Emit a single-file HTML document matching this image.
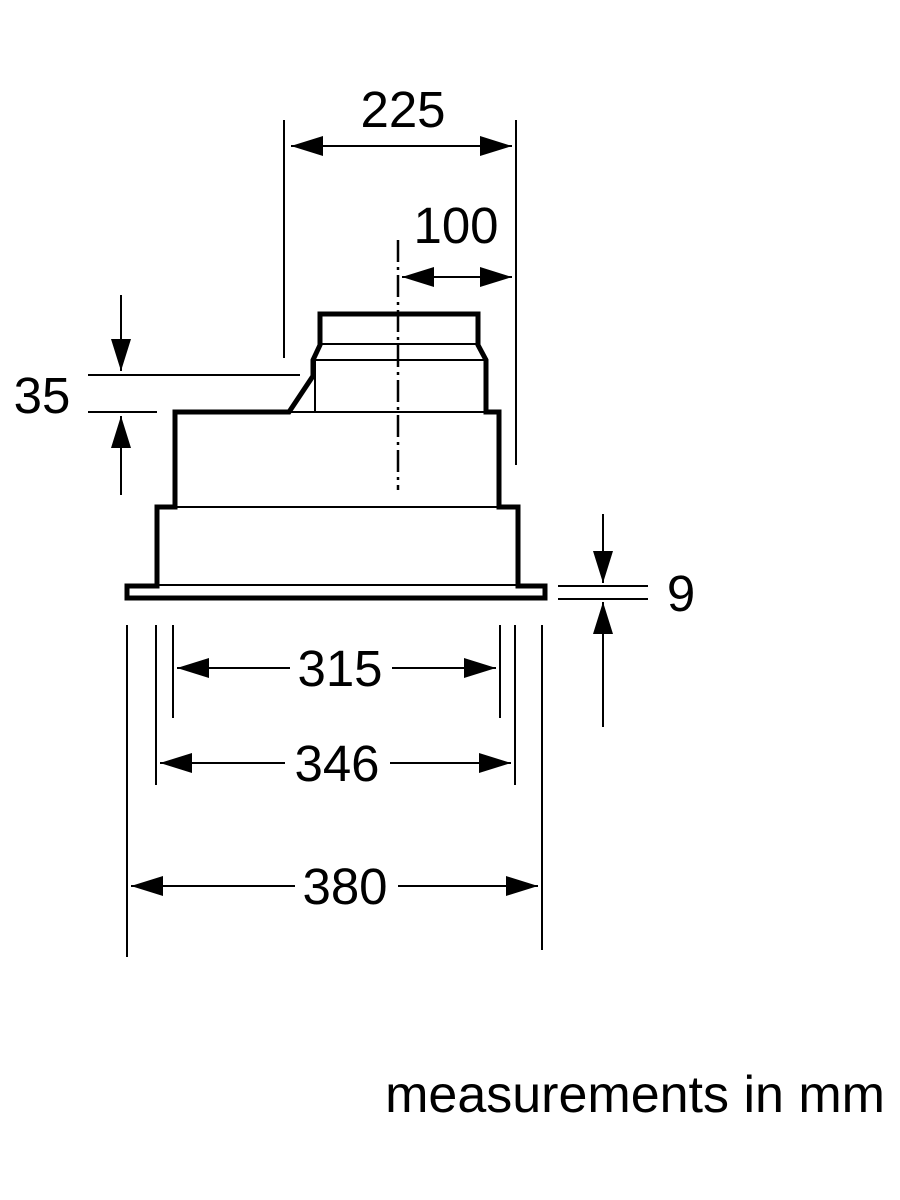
<!DOCTYPE html>
<html><head><meta charset="utf-8"><style>
html,body{margin:0;padding:0;background:#fff;}
svg{display:block;}
text{font-family:"Liberation Sans",Arial,sans-serif;fill:#000;}
</style></head><body>
<svg width="900" height="1200" viewBox="0 0 900 1200" xmlns="http://www.w3.org/2000/svg">
<defs>
<marker id="a" viewBox="0 0 32 20" refX="32" refY="10" markerWidth="32" markerHeight="20" markerUnits="userSpaceOnUse" orient="auto-start-reverse">
<path d="M0,0 L32,10 L0,20 Z" fill="#000"/></marker>
</defs>
<g fill="none" stroke="#000">
<g stroke-width="5" stroke-linejoin="miter">
<path d="M127,598 L127,586 L157,586 L157,507 L175,507 L175,412 L289,412 L313,376 L313,360 L320,345 L320,314 L478,314 L478,345 L486,360 L486,412 L499,412 L499,507 L518,507 L518,586 L545,586 L545,598 Z"/>
</g>
<g stroke-width="2">
<line x1="157" y1="585" x2="518" y2="585"/>
<line x1="175" y1="507" x2="499" y2="507"/>
<line x1="289" y1="412" x2="486" y2="412"/>
<line x1="315" y1="360" x2="315" y2="412"/>
<line x1="320" y1="344" x2="478" y2="344"/>
<line x1="313" y1="360" x2="486" y2="360"/>
</g>
<line x1="398" y1="240" x2="398" y2="490" stroke-width="2.5" stroke-dasharray="22,5,3,5"/>
<g stroke-width="2">
<line x1="284" y1="120" x2="284" y2="358"/>
<line x1="516" y1="120" x2="516" y2="465"/>
<line x1="88" y1="375" x2="300" y2="375"/>
<line x1="88" y1="412" x2="157" y2="412"/>
<line x1="558" y1="586" x2="648" y2="586"/>
<line x1="558" y1="599" x2="648" y2="599"/>
<line x1="173" y1="625" x2="173" y2="718"/>
<line x1="500" y1="625" x2="500" y2="718"/>
<line x1="156" y1="625" x2="156" y2="785"/>
<line x1="515" y1="625" x2="515" y2="785"/>
<line x1="127" y1="625" x2="127" y2="957"/>
<line x1="542" y1="625" x2="542" y2="950"/>
<line x1="291" y1="146" x2="512" y2="146" marker-start="url(#a)" marker-end="url(#a)"/>
<line x1="402" y1="277" x2="512" y2="277" marker-start="url(#a)" marker-end="url(#a)"/>
<line x1="121" y1="295" x2="121" y2="371" marker-end="url(#a)"/>
<line x1="121" y1="495" x2="121" y2="416" marker-end="url(#a)"/>
<line x1="603" y1="514" x2="603" y2="583" marker-end="url(#a)"/>
<line x1="603" y1="727" x2="603" y2="602" marker-end="url(#a)"/>
<line x1="290" y1="668" x2="177" y2="668" marker-end="url(#a)"/>
<line x1="392" y1="668" x2="496" y2="668" marker-end="url(#a)"/>
<line x1="285" y1="763" x2="160" y2="763" marker-end="url(#a)"/>
<line x1="390" y1="763" x2="511" y2="763" marker-end="url(#a)"/>
<line x1="295" y1="886" x2="131" y2="886" marker-end="url(#a)"/>
<line x1="398" y1="886" x2="538" y2="886" marker-end="url(#a)"/>
</g>
</g>
<g font-size="51">
<text x="403" y="127" text-anchor="middle">225</text>
<text x="456" y="243" text-anchor="middle">100</text>
<text x="42" y="413" text-anchor="middle">35</text>
<text x="681" y="611" text-anchor="middle">9</text>
<text x="340" y="686" text-anchor="middle">315</text>
<text x="337" y="781" text-anchor="middle">346</text>
<text x="345" y="904" text-anchor="middle">380</text>
<text x="885" y="1112" text-anchor="end" font-size="52">measurements in mm</text>
</g>
</svg>
</body></html>
